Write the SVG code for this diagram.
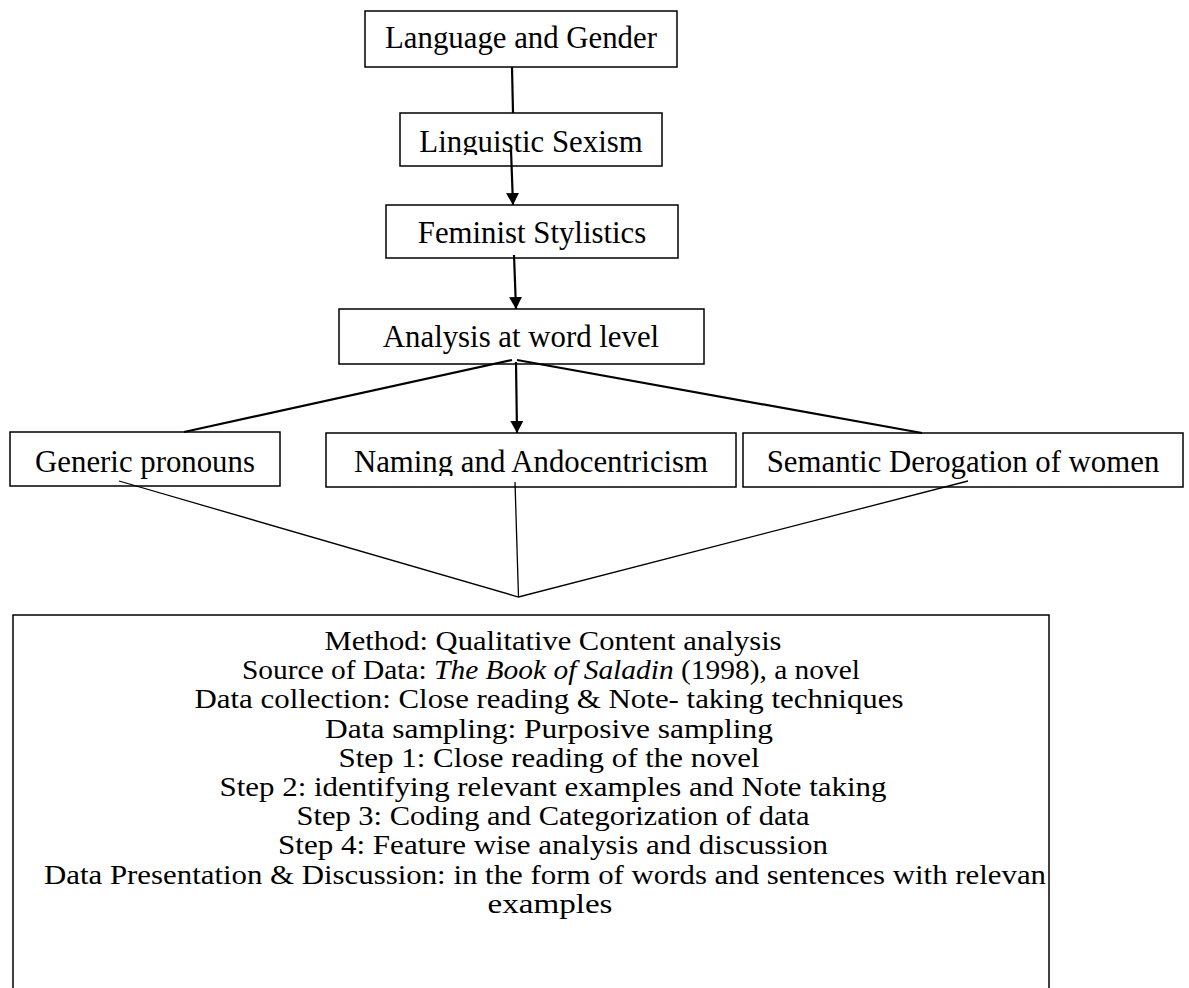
<svg xmlns="http://www.w3.org/2000/svg" width="1189" height="988" viewBox="0 0 1189 988">
<style>
.box{fill:#fff;stroke:#000;stroke-width:1.5}
.t{font-family:"Liberation Serif","Times New Roman",serif;font-size:30.8px;fill:#000;text-anchor:middle}
.b{font-family:"Liberation Serif","Times New Roman",serif;font-size:26.5px;fill:#000;text-anchor:middle}
.c{stroke:#000;stroke-width:2.2;fill:none}
.thin{stroke:#000;stroke-width:1.3;fill:none}
</style>
<defs>
<marker id="ah" markerUnits="userSpaceOnUse" markerWidth="14" markerHeight="14" refX="12" refY="6.5" orient="auto">
<path d="M0,0 L12,6.5 L0,13 z" fill="#000"/>
</marker>
<clipPath id="clipLing"><rect x="400" y="113" width="262" height="42"/></clipPath>
<clipPath id="clipNam"><rect x="326" y="433" width="410" height="43"/></clipPath>
</defs>
<rect width="1189" height="988" fill="#fff"/>
<g id="n-language">
<rect class="box" x="365" y="11" width="312" height="56"/>
<text class="t" x="521" y="48">Language and Gender</text>
</g>
<g id="n-linguistic">
<rect class="box" x="400" y="113" width="262" height="53"/>
<text class="t" x="531" y="152" clip-path="url(#clipLing)">Linguistic Sexism</text>
</g>
<g id="n-feminist">
<rect class="box" x="386" y="205" width="292" height="53"/>
<text class="t" x="532" y="243">Feminist Stylistics</text>
</g>
<g id="n-analysis">
<rect class="box" x="339" y="309" width="365" height="55"/>
<text class="t" x="521" y="347">Analysis at word level</text>
</g>
<g id="n-generic">
<rect class="box" x="10" y="432" width="270" height="54"/>
<text class="t" x="145" y="472">Generic pronouns</text>
</g>
<g id="n-naming">
<rect class="box" x="326" y="433" width="410" height="54"/>
<text class="t" x="531" y="472" clip-path="url(#clipNam)">Naming and Andocentricism</text>
</g>
<g id="n-semantic">
<rect class="box" x="743" y="433" width="440" height="54"/>
<text class="t" x="963" y="472">Semantic Derogation of women</text>
</g>
<g id="n-method">
<rect class="box" x="13" y="615" width="1036" height="400"/>
<text class="b" x="553" y="650" textLength="457" lengthAdjust="spacingAndGlyphs">Method: Qualitative Content analysis</text>
<text class="b" x="551" y="679.2" textLength="618" lengthAdjust="spacingAndGlyphs">Source of Data: <tspan font-style="italic">The Book of Saladin</tspan> (1998), a novel</text>
<text class="b" x="549" y="708.4" textLength="709" lengthAdjust="spacingAndGlyphs">Data collection: Close reading &amp; Note- taking techniques</text>
<text class="b" x="549" y="737.6" textLength="448" lengthAdjust="spacingAndGlyphs">Data sampling: Purposive sampling</text>
<text class="b" x="549" y="766.8" textLength="421" lengthAdjust="spacingAndGlyphs">Step 1: Close reading of the novel</text>
<text class="b" x="553" y="796" textLength="667" lengthAdjust="spacingAndGlyphs">Step 2: identifying relevant examples and Note taking</text>
<text class="b" x="553" y="825.2" textLength="513" lengthAdjust="spacingAndGlyphs">Step 3: Coding and Categorization of data</text>
<text class="b" x="553" y="854.4" textLength="550" lengthAdjust="spacingAndGlyphs">Step 4: Feature wise analysis and discussion</text>
<text class="b" x="44" y="883.6" style="text-anchor:start" textLength="1002" lengthAdjust="spacingAndGlyphs">Data Presentation &amp; Discussion: in the form of words and sentences with relevan</text>
<text class="b" x="550" y="912.8" textLength="125" lengthAdjust="spacingAndGlyphs">examples</text>
</g>
<g id="connectors">
<line class="c" x1="512" y1="67" x2="513" y2="113"/>
<line class="c" x1="511" y1="150" x2="513" y2="205" marker-end="url(#ah)"/>
<line class="c" x1="514" y1="255" x2="516" y2="309" marker-end="url(#ah)"/>
<line class="c" x1="512" y1="360" x2="184" y2="432"/>
<line class="c" x1="516" y1="362" x2="517" y2="433" marker-end="url(#ah)"/>
<line class="c" x1="517" y1="360" x2="922" y2="433"/>
<polyline class="thin" points="119,481 518.5,597 968,481"/>
<line class="thin" x1="515" y1="482" x2="518.5" y2="597"/>
</g>
</svg>
